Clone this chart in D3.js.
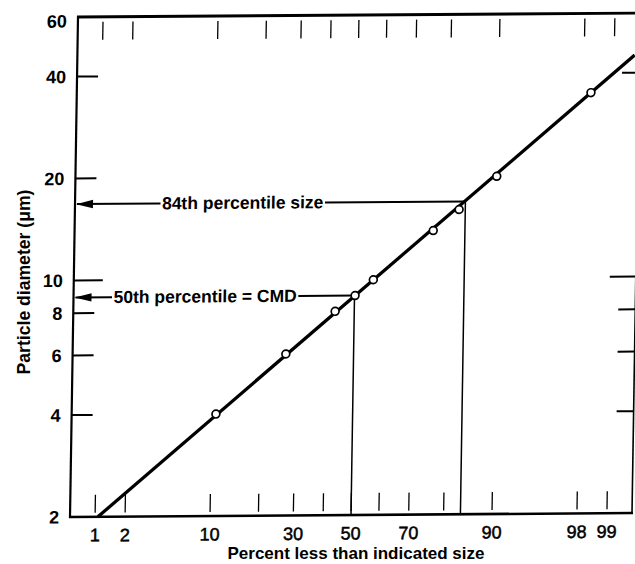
<!DOCTYPE html>
<html><head><meta charset="utf-8">
<script src="https://cdn.jsdelivr.net/npm/d3@7"></script>
<style>
html,body{margin:0;padding:0;background:#fff;}
svg{display:block;}
text{font-family:"Liberation Sans",Arial,Helvetica,sans-serif;fill:#000;}
</style></head><body>
<svg id="chart" width="635" height="564"></svg>
<script>
// ---------------- data ----------------
const percentPoints  = [10.7, 26.9, 43.1, 50.2, 56.7, 76.0, 82.6, 89.9, 98.3];
const diameterPoints = [4.0, 6.0, 8.0, 8.9, 9.9, 13.8, 15.9, 19.9, 35.0];
const fitPercent  = [1.07, 99.4];
const fitDiameter = [2.0, 45.1];
const xTickValues = [1, 2, 10, 20, 30, 40, 50, 60, 70, 80, 90, 98, 99];
const xTickLabels = [1, 2, 10, 30, 50, 70, 90, 98, 99];
const yTickValues = [4, 6, 8, 10, 20, 40];
const yRightTickValues = [4, 6, 8, 10, 40];
const yTickLabels = [2, 4, 6, 8, 10, 20, 40, 60];
const annotPercent  = [84, 50];
const annotDiameter = [16.8, 8.9];
const annotLabels   = ["84th percentile size", "50th percentile = CMD"];
const xDomainPercent = [0.532, 99.468];
const yDomain = [2, 60];

// ---------------- layout ----------------
const W = 562, H = 500;
const annotLabelStart = [87, 40];

// inverse standard normal CDF (Acklam)
function probit(p){
  const a=[-3.969683028665376e+01,2.209460984245205e+02,-2.759285104469687e+02,1.383577518672690e+02,-3.066479806614716e+01,2.506628277459239e+00];
  const b=[-5.447609879822406e+01,1.615858368580409e+02,-1.556989798598866e+02,6.680131188771972e+01,-1.328068155288572e+01];
  const c=[-7.784894002430293e-03,-3.223964580411365e-01,-2.400758277161838e+00,-2.549732539343734e+00,4.374664141464968e+00,2.938163982698783e+00];
  const d=[7.784695709041462e-03,3.224671290700398e-01,2.445134137142996e+00,3.754408661907416e+00];
  const pl=0.02425, ph=1-pl; let q,r;
  if(p<pl){q=Math.sqrt(-2*Math.log(p));return (((((c[0]*q+c[1])*q+c[2])*q+c[3])*q+c[4])*q+c[5])/((((d[0]*q+d[1])*q+d[2])*q+d[3])*q+1);}
  if(p<=ph){q=p-0.5;r=q*q;return (((((a[0]*r+a[1])*r+a[2])*r+a[3])*r+a[4])*r+a[5])*q/(((((b[0]*r+b[1])*r+b[2])*r+b[3])*r+b[4])*r+1);}
  q=Math.sqrt(-2*Math.log(1-p));return -(((((c[0]*q+c[1])*q+c[2])*q+c[3])*q+c[4])*q+c[5])/((((d[0]*q+d[1])*q+d[2])*q+d[3])*q+1);
}

const zScale = d3.scaleLinear().domain(xDomainPercent.map(p=>probit(p/100))).range([0, W]);
const x = p => zScale(probit(p/100));
const y = d3.scaleLog().domain(yDomain).range([H, 0]);

const svg = d3.select("#chart");
const defs = svg.append("defs");
defs.append("clipPath").attr("id","plotclip").append("rect").attr("x",0).attr("y",0).attr("width",W).attr("height",H);

// slight skew like the scanned original
const g = svg.append("g").attr("transform","matrix(1,-0.007,-0.016,1,78,17)");

// frame
g.append("line").attr("x1",-1).attr("x2",W+4).attr("y1",0).attr("y2",0).attr("stroke","#000").attr("stroke-width",2.8);
g.append("line").attr("x1",0).attr("x2",0).attr("y1",-1).attr("y2",H+1).attr("stroke","#000").attr("stroke-width",2.2);
g.append("line").attr("x1",-1).attr("x2",W+1).attr("y1",H).attr("y2",H).attr("stroke","#000").attr("stroke-width",2.6);
g.append("line").attr("x1",W).attr("x2",W).attr("y1",0).attr("y2",H).attr("stroke","#000").attr("stroke-width",1.6);

// x ticks (top and bottom, detached from frame)
g.selectAll(".xtb").data(xTickValues).join("line")
  .attr("x1",d=>x(d)).attr("x2",d=>x(d)).attr("y1",H-4).attr("y2",H-22)
  .attr("stroke","#000").attr("stroke-width",1.3);
g.selectAll(".xtt").data(xTickValues).join("line")
  .attr("x1",d=>x(d)).attr("x2",d=>x(d)).attr("y1",5).attr("y2",23)
  .attr("stroke","#000").attr("stroke-width",1.3);
g.selectAll(".xl").data(xTickLabels).join("text")
  .attr("x",d=>x(d)).attr("y",H+24.5).attr("text-anchor","middle")
  .attr("font-size","18px").attr("stroke","#000").attr("stroke-width",0.5)
  .text(d=>d);

// y ticks
g.selectAll(".ytl").data(yTickValues).join("line")
  .attr("x1",0).attr("x2",d=>d===10?29:21).attr("y1",d=>y(d)).attr("y2",d=>y(d))
  .attr("stroke","#000").attr("stroke-width",2);
g.selectAll(".ytr").data(yRightTickValues).join("line")
  .attr("x1",W).attr("x2",d=>W-(d===10?26:17)).attr("y1",d=>y(d)).attr("y2",d=>y(d))
  .attr("stroke","#000").attr("stroke-width",2);
g.selectAll(".yl").data(yTickLabels).join("text")
  .attr("x",-11).attr("y",d=>y(d)).attr("dy",d=>d===60?"0.58em":"0.36em").attr("text-anchor","end")
  .attr("font-size","18px").attr("font-weight","bold")
  .text(d=>d);

// annotations
annotPercent.forEach((p,i)=>{
  const yy = y(annotDiameter[i]);
  const xe = x(p);
  const t = g.append("text").attr("x",annotLabelStart[i]).attr("y",yy).attr("dy","0.33em")
    .attr("font-size","17.5px").attr("font-weight","bold").text(annotLabels[i]);
  const tl = t.node().getComputedTextLength();
  // arrow
  g.append("line").attr("x1",2).attr("x2",annotLabelStart[i]-1.5).attr("y1",yy).attr("y2",yy)
    .attr("stroke","#000").attr("stroke-width",2);
  g.append("line").attr("x1",annotLabelStart[i]+tl+1.5).attr("x2",xe).attr("y1",yy).attr("y2",yy)
    .attr("stroke","#000").attr("stroke-width",2);
  const ah = d3.path();
  ah.moveTo(1, yy); ah.lineTo(18, yy-4.2); ah.lineTo(18, yy+4.2); ah.closePath();
  g.append("path").attr("d",ah.toString()).attr("fill","#000");
  // vertical drop line
  g.append("line").attr("x1",xe).attr("x2",xe).attr("y1",yy).attr("y2",H)
    .attr("stroke","#000").attr("stroke-width",1.5);
});

// fitted line
const fit = fitPercent.map((p,i)=>[x(p), y(fitDiameter[i])]);
g.append("path").attr("clip-path","url(#plotclip)")
  .attr("d", d3.line()(fit)).attr("stroke","#000").attr("stroke-width",3.3).attr("fill","none");

// data points
g.selectAll(".pt").data(percentPoints).join("circle")
  .attr("cx",d=>x(d)).attr("cy",(d,i)=>y(diameterPoints[i])).attr("r",3.9)
  .attr("fill","#fff").attr("stroke","#000").attr("stroke-width",1.7);

// axis titles
svg.append("text").attr("x",356).attr("y",559).attr("text-anchor","middle")
  .attr("font-size","17px").attr("font-weight","bold").text("Percent less than indicated size");
svg.append("text").attr("transform","translate(30,282) rotate(-90)").attr("text-anchor","middle")
  .attr("font-size","17.6px").attr("font-weight","bold").text("Particle diameter (μm)");
</script>
</body></html>
